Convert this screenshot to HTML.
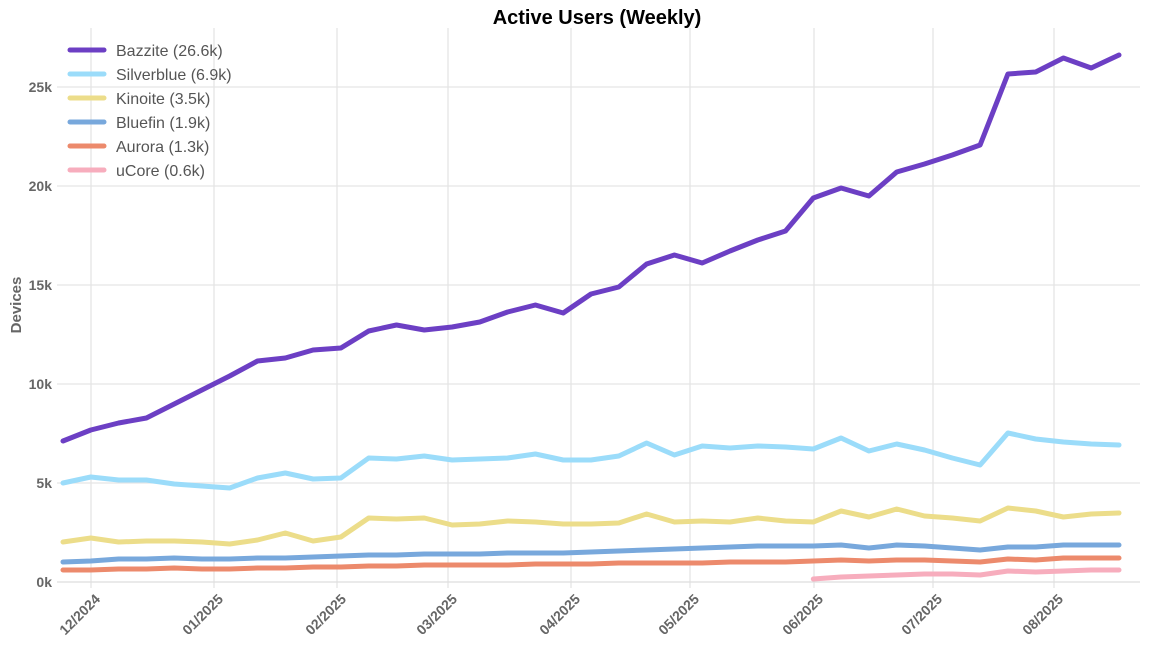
<!DOCTYPE html>
<html><head><meta charset="utf-8"><style>
body{margin:0;background:#fff;width:1149px;height:645px;overflow:hidden}
svg text{font-family:"Liberation Sans","DejaVu Sans",sans-serif}
</style></head><body>
<svg id="s" width="1149" height="645" xmlns="http://www.w3.org/2000/svg">
<text x="597" y="24" text-anchor="middle" font-size="20" font-weight="bold" fill="#000">Active Users (Weekly)</text>
<g stroke="#e5e5e5" stroke-width="1.3">
<line x1="57" x2="1140" y1="87" y2="87"/><line x1="57" x2="1140" y1="186" y2="186"/><line x1="57" x2="1140" y1="285" y2="285"/><line x1="57" x2="1140" y1="384" y2="384"/><line x1="57" x2="1140" y1="483" y2="483"/>
<line x1="91" x2="91" y1="28" y2="588"/><line x1="214" x2="214" y1="28" y2="588"/><line x1="337" x2="337" y1="28" y2="588"/><line x1="448" x2="448" y1="28" y2="588"/><line x1="571" x2="571" y1="28" y2="588"/><line x1="690" x2="690" y1="28" y2="588"/><line x1="814" x2="814" y1="28" y2="588"/><line x1="933" x2="933" y1="28" y2="588"/><line x1="1054" x2="1054" y1="28" y2="588"/>
</g>
<line x1="57" x2="1140" y1="582" y2="582" stroke="#ddd" stroke-width="1.3"/>
<g font-size="14" font-weight="bold" fill="#666" text-anchor="end">
<text x="52" y="92">25k</text><text x="52" y="191">20k</text><text x="52" y="290">15k</text><text x="52" y="389">10k</text><text x="52" y="488">5k</text><text x="52" y="587">0k</text>
</g>
<text transform="translate(21,305) rotate(-90)" text-anchor="middle" font-size="15" font-weight="bold" fill="#666">Devices</text>
<g id="xl" font-size="14" font-weight="bold" fill="#666" text-anchor="end"></g>
<g id="ln" fill="none" stroke-width="5" stroke-linejoin="round" stroke-linecap="round"></g>
<g font-size="16" fill="#555">
<line x1="70" x2="104" y1="50" y2="50" stroke="#6c3fc4" stroke-width="5" stroke-linecap="round"/><text x="116" y="56">Bazzite (26.6k)</text>
<line x1="70" x2="104" y1="74" y2="74" stroke="#9bdcfa" stroke-width="5" stroke-linecap="round"/><text x="116" y="80">Silverblue (6.9k)</text>
<line x1="70" x2="104" y1="98" y2="98" stroke="#ecdd8a" stroke-width="5" stroke-linecap="round"/><text x="116" y="104">Kinoite (3.5k)</text>
<line x1="70" x2="104" y1="122" y2="122" stroke="#78a8dc" stroke-width="5" stroke-linecap="round"/><text x="116" y="128">Bluefin (1.9k)</text>
<line x1="70" x2="104" y1="146" y2="146" stroke="#ec8a6c" stroke-width="5" stroke-linecap="round"/><text x="116" y="152">Aurora (1.3k)</text>
<line x1="70" x2="104" y1="170" y2="170" stroke="#f7adbd" stroke-width="5" stroke-linecap="round"/><text x="116" y="176">uCore (0.6k)</text>
</g>
</svg>
<script>
var S={
"#6c3fc4":[441,430,423,418,404,390,376,361,358,350,348,331,325,330,327,322,312,305,313,294,287,264,255,263,251,240,231,198,188,196,172,164,155,145,74,72,58,68,55],
"#9bdcfa":[483,477,480,480,484,486,488,478,473,479,478,458,459,456,460,459,458,454,460,460,456,443,455,446,448,446,447,449,438,451,444,450,458,465,433,439,442,444,445],
"#ecdd8a":[542,538,542,541,541,542,544,540,533,541,537,518,519,518,525,524,521,522,524,524,523,514,522,521,522,518,521,522,511,517,509,516,518,521,508,511,517,514,513],
"#78a8dc":[562,561,559,559,558,559,559,558,558,557,556,555,555,554,554,554,553,553,553,552,551,550,549,548,547,546,546,546,545,548,545,546,548,550,547,547,545,545,545],
"#ec8a6c":[570,570,569,569,568,569,569,568,568,567,567,566,566,565,565,565,565,564,564,564,563,563,563,563,562,562,562,561,560,561,560,560,561,562,559,560,558,558,558]};
var ln=document.getElementById('ln'),ns="http://www.w3.org/2000/svg";
function add(c,arr,off){var p=document.createElementNS(ns,'polyline');p.setAttribute('stroke',c);
p.setAttribute('points',arr.map(function(y,i){return (63+(i+off)*27.79).toFixed(1)+','+y}).join(' '));ln.appendChild(p);}
var order=["#ec8a6c","#78a8dc","#ecdd8a","#9bdcfa","#6c3fc4"];
add("#f7adbd",[579,577,576,575,574,574,575,571,572,571,570,570],27);
order.forEach(function(c){add(c,S[c],0)});
var xl=document.getElementById('xl');
[[91,"12/2024"],[214,"01/2025"],[337,"02/2025"],[448,"03/2025"],[571,"04/2025"],[690,"05/2025"],[814,"06/2025"],[933,"07/2025"],[1054,"08/2025"]].forEach(function(d){
var t=document.createElementNS(ns,'text');t.setAttribute('transform','translate('+(d[0]+10)+',600) rotate(-45)');t.textContent=d[1];xl.appendChild(t);});
</script>
</body></html>
